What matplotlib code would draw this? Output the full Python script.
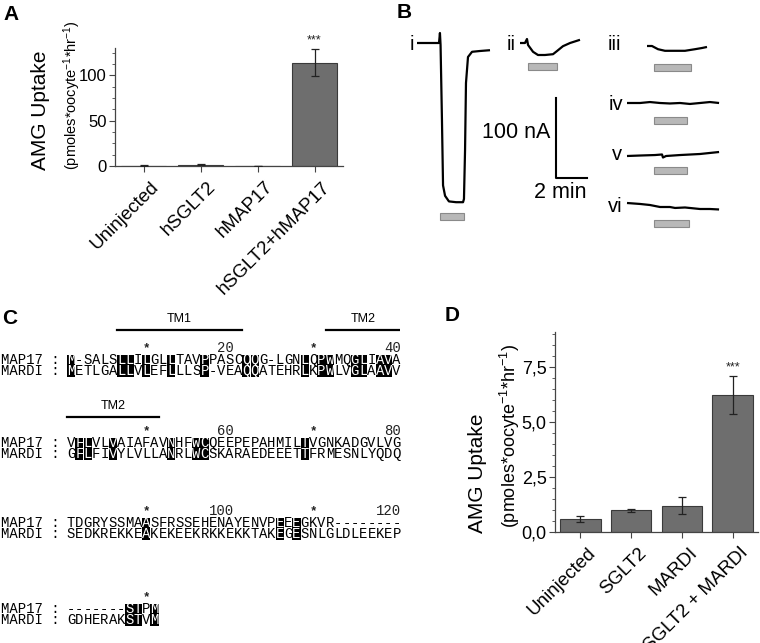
import matplotlib
matplotlib.use("Agg")
import matplotlib.pyplot as plt
import matplotlib.transforms as mtransforms
from matplotlib.patches import Rectangle
from matplotlib.ticker import AutoMinorLocator, FuncFormatter, MultipleLocator
from matplotlib import font_manager

plt.rcParams['font.family'] = ['Liberation Sans', 'DejaVu Sans']
plt.rcParams['mathtext.fontset'] = 'custom'
plt.rcParams['mathtext.rm'] = 'Liberation Sans'
plt.rcParams['mathtext.it'] = 'Liberation Sans:italic'
plt.rcParams['mathtext.bf'] = 'Liberation Sans:bold'

# ---------------- Panel A data ----------------
a_categories = ["Uninjected", "hSGLT2", "hMAP17", "hSGLT2+hMAP17"]
a_values = [0.3, 1.5, 0.2, 114.0]
a_errors = [0.3, 0.5, 0.2, 15.0]
a_sig = ["", "", "", "***"]

# ---------------- Panel D data ----------------
d_categories = ["Uninjected", "SGLT2", "MARDI", "SGLT2 + MARDI"]
d_values = [0.60, 0.98, 1.20, 6.22]
d_errors = [0.15, 0.06, 0.40, 0.87]
d_sig = ["", "", "", "***"]

# ---------------- Panel B data (time in min, current in nA, relative to trace start) ----
trace_labels = ["i", "ii", "iii", "iv", "v", "vi"]
trace_i_t = [0, 0.52, 1.42, 1.48, 1.52, 1.61, 1.68, 1.81, 2.06, 2.52, 2.97, 3.03, 3.10, 3.16, 3.29, 3.55, 4.06, 4.71]
trace_i_nA = [0, 0, 0, 12.5, -2.5, -96, -178, -191, -198, -199, -199, -195, -134, -50, -17.5, -11, -10, -9]
trace_ii_t = [0, 0.32, 0.45, 0.52, 0.84, 1.16, 1.61, 2.13, 2.39, 2.77, 3.23, 3.87]
trace_ii_nA = [0, 0, 5, -2.5, -11, -15, -15, -14, -10, -4, 0, 4]
trace_iii_t = [0, 0.32, 0.71, 1.16, 1.81, 2.45, 3.10, 3.55, 3.87]
trace_iii_nA = [0, 0, -4, -6, -6, -6, -4, -2.5, -1.2]
trace_iv_t = [0, 0.84, 1.48, 2.13, 2.77, 3.42, 4.06, 4.71, 5.35, 5.94]
trace_iv_nA = [0, 0, 1.2, 0, -0.6, 0, -1.2, 0, 1.2, 0]
trace_v_t = [0, 0.84, 1.81, 2.26, 2.32, 2.52, 3.42, 4.71, 5.94]
trace_v_nA = [0, 0.6, 1.2, 1.9, -1.9, 0, 1.2, 2.5, 5.0]
trace_vi_t = [0, 0.84, 1.48, 2.13, 2.77, 3.10, 3.74, 4.71, 5.35, 5.94]
trace_vi_nA = [0, -1.2, -2.5, -5, -5, -6.2, -5.6, -7.5, -7.5, -8.1]
# perfusion (substrate application) periods, min relative to trace start
perfusion_start = [1.48, 0.52, 0.45, 1.74, 1.74, 1.74]
perfusion_end = [3.03, 2.39, 2.84, 3.87, 3.87, 4.00]
scale_nA = 100
scale_min = 2

# ---------------- Panel C data ----------------
map17_seq = ("M-SALSLLILGLLTAVPPASCQQG-LGNLQPWMQGLIAVA"
             "VFLVLVAIAFAVNHFWCQEEPEPAHMILTVGNKADGVLVG"
             "TDGRYSSMAASFRSSEHENAYENVPEEEGKVR--------"
             "-------STPM")
mardi_seq = ("METLGALLVLEFLLLSP-VEAQQATEHRLKPWLVGLAAVV"
             "GFLFIVYLVLLANRLWCSKARAEDEEETTFRMESNLYQDQ"
             "SEDKREKKEAKEKEEKRKKEKKTAKEGESNLGLDLEEKEP"
             "GDHERAKSTVM")
seq_names = ["MAP17", "MARDI"]
tm_names = ["TM1", "TM2"]
tm_start = [7, 32]
tm_end = [21, 51]
block_len = 40

# ---------------- layout ----------------
W, H = 760, 643
fig = plt.figure(figsize=(W / 100, H / 100), dpi=100)

BAR_COLOR = "#6e6e6e"
EDGE_COLOR = "#3a3a3a"
AX_COLOR = "#444444"

installed = {f.name for f in font_manager.fontManager.ttflist}
NARROW = ['Liberation Sans Narrow', 'Liberation Sans'] if 'Liberation Sans Narrow' in installed else ['Liberation Sans']


def px_axes(l, t, r, b):
    return fig.add_axes([l / W, 1 - b / H, (r - l) / W, (b - t) / H])


def bar_panel(ax, cats, vals, errs, sig, ylim, major, fmt, xfs, yfs):
    x = list(range(len(cats)))
    ax.bar(x, vals, width=0.8, color=BAR_COLOR, edgecolor=EDGE_COLOR, linewidth=0.8, zorder=2)
    ax.errorbar(x, vals, yerr=errs, fmt='none', ecolor='#222222', elinewidth=0.9,
                capsize=3, capthick=0.9, zorder=3)
    for xi, v, e, s in zip(x, vals, errs, sig):
        if s:
            ax.annotate(s, (xi, v + e), xytext=(0, 2), textcoords='offset points',
                        ha='center', va='bottom', fontsize=9, color='#222222', annotation_clip=False)
    ax.set_xlim(-0.5, len(cats) - 0.5)
    ax.set_ylim(*ylim)
    ax.yaxis.set_major_locator(MultipleLocator(major))
    ax.yaxis.set_minor_locator(AutoMinorLocator(5 if major < 10 else 4))
    ax.yaxis.set_major_formatter(FuncFormatter(fmt))
    for sp in ['top', 'right']:
        ax.spines[sp].set_visible(False)
    for sp in ['left', 'bottom']:
        ax.spines[sp].set_color(AX_COLOR)
        ax.spines[sp].set_linewidth(0.9)
    ax.tick_params(axis='y', which='major', direction='out', length=4, width=0.8,
                   color=AX_COLOR, labelsize=yfs, pad=2)
    ax.tick_params(axis='y', which='minor', direction='out', length=2, width=0.6, color=AX_COLOR)
    ax.tick_params(axis='x', direction='out', length=4, width=0.8, color=AX_COLOR)
    ax.set_xticks(x)
    ax.set_xticklabels(cats, rotation=45, ha='right', va='top', rotation_mode='anchor', fontsize=xfs)
    off = mtransforms.ScaledTranslation(7 / 100, -2 / 100, fig.dpi_scale_trans)
    for lab in ax.get_xticklabels():
        lab.set_transform(lab.get_transform() + off)


# Panel A
axA = px_axes(115, 48, 343, 166)
bar_panel(axA, a_categories, a_values, a_errors, a_sig, (0, 130), 50,
          lambda v, p: f"{v:.0f}", 13.5, 12)
fig.text(40 / W, 1 - 170 / H, "AMG Uptake", rotation=90, ha='center', va='bottom', fontsize=15)
fig.text(72 / W, 1 - 170 / H, "(pmoles*oocyte$^{-1}$*hr$^{-1}$)", rotation=90,
         ha='center', va='bottom', fontsize=10.5)

# Panel D
axD = px_axes(555, 332, 758, 532)
bar_panel(axD, d_categories, d_values, d_errors, d_sig, (0, 9.1), 2.5,
          lambda v, p: f"{v:.1f}".replace('.', ','), 13.5, 13)
fig.text(478 / W, 1 - 533 / H, "AMG Uptake", rotation=90, ha='center', va='bottom', fontsize=15)
fig.text(510 / W, 1 - 528 / H, "(pmoles*oocyte$^{-1}$*hr$^{-1}$)", rotation=90,
         ha='center', va='bottom', fontsize=13)

# Panel B: current traces
PX_MIN = 15.5   # pixels per minute
PX_NA = 0.8     # pixels per nA
bl, bt, br, bb = 400, 0, 760, 260
axB = px_axes(bl, bt, br, bb)
axB.set_xlim(0, (br - bl) / PX_MIN)
axB.set_ylim(-(bb - bt) / PX_NA, 0)
axB.axis('off')

trace_t = [trace_i_t, trace_ii_t, trace_iii_t, trace_iv_t, trace_v_t, trace_vi_t]
trace_nA = [trace_i_nA, trace_ii_nA, trace_iii_nA, trace_iv_nA, trace_v_nA, trace_vi_nA]
# trace origins (pixel layout): x, y of trace start; perfusion bar top; label right edge
trace_origin_px = [(417, 43), (520, 43), (647, 46), (627, 103), (627, 156), (627, 203)]
bar_top_px = [213, 63, 64, 117, 167, 220]
label_px = [(414, 45), (516, 45), (621, 45), (623, 104), (622, 155), (623, 207)]

for lab, ts, cs, (ox, oy), btop, (lx, ly), ps, pe in zip(
        trace_labels, trace_t, trace_nA, trace_origin_px, bar_top_px, label_px,
        perfusion_start, perfusion_end):
    t0 = (ox - bl) / PX_MIN
    i0 = -(oy - bt) / PX_NA
    axB.plot([t0 + t for t in ts], [i0 + c for c in cs], color='black', lw=1.6,
             solid_joinstyle='round', solid_capstyle='butt')
    axB.add_patch(Rectangle((t0 + ps, -(btop + 7 - bt) / PX_NA), pe - ps, 7 / PX_NA,
                            facecolor='#b8b8b8', edgecolor='#8a8a8a', linewidth=0.8))
    axB.text((lx - bl) / PX_MIN, -(ly - bt) / PX_NA, lab, ha='right', va='center', fontsize=14.5)

# scale bar
sx, sy = 556, 178
sx_d = (sx - bl) / PX_MIN
sy_d = -(sy - bt) / PX_NA
axB.plot([sx_d, sx_d, sx_d + scale_min], [sy_d + scale_nA, sy_d, sy_d], color='black', lw=1.5)
axB.text((550 - bl) / PX_MIN, -(132 - bt) / PX_NA, f"{scale_nA} nA",
         ha='right', va='center', fontsize=15.5)
axB.text((560 - bl) / PX_MIN, -(193 - bt) / PX_NA, f"{scale_min} min",
         ha='center', va='center', fontsize=15.5)

# Panel C: alignment
CHAR_W = 8.35
cl, ct, cr, cb = 0, 300, 400, 643
axC = px_axes(cl, ct, cr, cb)
axC.set_xlim(0, (cr - cl) / CHAR_W)
axC.set_ylim(cb, ct)
axC.axis('off')
MONO = 'Liberation Mono'
ROW_H = 11
block_row_y = [360, 443, 523, 609]   # y of first sequence row of each block
tm_y = {0: 330, 1: 417}              # y of TM bar for blocks that have one
prefix_len = 8

n_blocks = (max(len(map17_seq), len(mardi_seq)) + block_len - 1) // block_len
for b in range(n_blocks):
    y0 = block_row_y[b]
    seqs = [map17_seq[b * block_len:(b + 1) * block_len], mardi_seq[b * block_len:(b + 1) * block_len]]
    L = len(seqs[0])
    # ruler
    for k in range(L):
        n = b * block_len + k + 1
        xc = prefix_len + k + 0.5
        if n % 20 == 0:
            axC.text(prefix_len + k + 1, y0 - 12, str(n), ha='right', va='center',
                     fontsize=10, family=MONO, color='#222222')
        elif n % 10 == 0:
            axC.text(xc, y0 - 12, "*", ha='center', va='center', fontsize=9,
                     family=MONO, color='#222222', fontweight='bold')
    # rows
    for r, (name, s) in enumerate(zip(seq_names, seqs)):
        y = y0 + r * ROW_H
        axC.text(0.1, y, f"{name} :", ha='left', va='center', fontsize=10, family=MONO)
        for k, ch in enumerate(s):
            other = seqs[1 - r]
            ident = k < len(other) and ch == other[k] and ch != '-'
            xc = prefix_len + k + 0.5
            if ident:
                axC.add_patch(Rectangle((prefix_len + k, y - ROW_H / 2), 1, ROW_H,
                                        facecolor='black', edgecolor='none'))
            axC.text(xc, y, ch, ha='center', va='center', fontsize=10, family=MONO,
                     color='white' if ident else 'black')
    # transmembrane annotations
    for nm, s0, s1 in zip(tm_names, tm_start, tm_end):
        lo = max(s0, b * block_len + 1)
        hi = min(s1, b * block_len + L)
        if lo > hi:
            continue
        x_lo = prefix_len + (lo - b * block_len - 1)
        x_hi = prefix_len + (hi - b * block_len)
        yb = tm_y[b]
        axC.plot([x_lo, x_hi], [yb, yb], color='black', lw=1.6)
        axC.text((x_lo + x_hi) / 2, yb - 5, nm, ha='center', va='bottom', fontsize=9,
                 family=NARROW)

# panel letters
for letter, (x, y) in zip("ABCD", [(3, 15), (397, 12), (2, 319), (445, 315)]):
    fig.text(x / W, 1 - y / H, letter, ha='left', va='center', fontsize=15, fontweight='bold')

fig.savefig("out.png", dpi=100)
